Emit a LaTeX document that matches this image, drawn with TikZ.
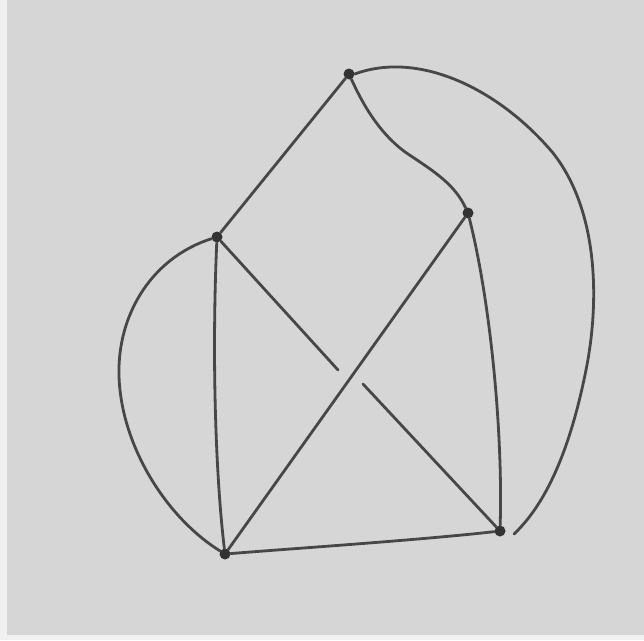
\documentclass[tikz,border=0pt]{standalone}
\begin{document}
\begin{tikzpicture}[x=1pt,y=-1pt,
  edge/.style={draw=black!72,line width=2.8pt,line cap=round,line join=round},
  vtx/.style={circle,fill=black!80,inner sep=0pt,minimum size=11pt}]
\fill[white!94!black] (0,0) rectangle (644,640);
\fill[black!16!white] (7,0) rectangle (644,635);
\useasboundingbox (0,0) rectangle (644,640);
\node[vtx] (T) at (349,74) {};
\node[vtx] (R) at (468,213) {};
\node[vtx] (L) at (217,237) {};
\node[vtx] (BL) at (225,554) {};
\node[vtx] (BR) at (500,531) {};
\coordinate (g1) at (338,370);
\coordinate (g2) at (363,384);
\coordinate (re) at (514,534);
% straight-ish edges
\draw[edge] (T) -- (L);
\draw[edge] (T) .. controls (360,98) and (378,135) .. (411,156) .. controls (435,172) and (455,185) .. (R);
\draw[edge] (L) .. controls (212,350) and (215,470) .. (BL);
\draw[edge] (R) .. controls (490,300) and (503,430) .. (BR);
\draw[edge] (R) -- (BL);
\draw[edge] (L) -- (g1);
\draw[edge] (g2) -- (BR);
\draw[edge] (BL) .. controls (300,548) and (420,540) .. (BR);
% left arc
\draw[edge] (L) .. controls (150,258) and (112,320) .. (120,390) .. controls (127,455) and (170,520) .. (BL);
% right big arc
\draw[edge] (T.east) .. controls (420,50) and (500,90) .. (553,153) .. controls (598,210) and (600,300) .. (586,370) .. controls (572,440) and (550,500) .. (re);
\end{tikzpicture}
\end{document}
